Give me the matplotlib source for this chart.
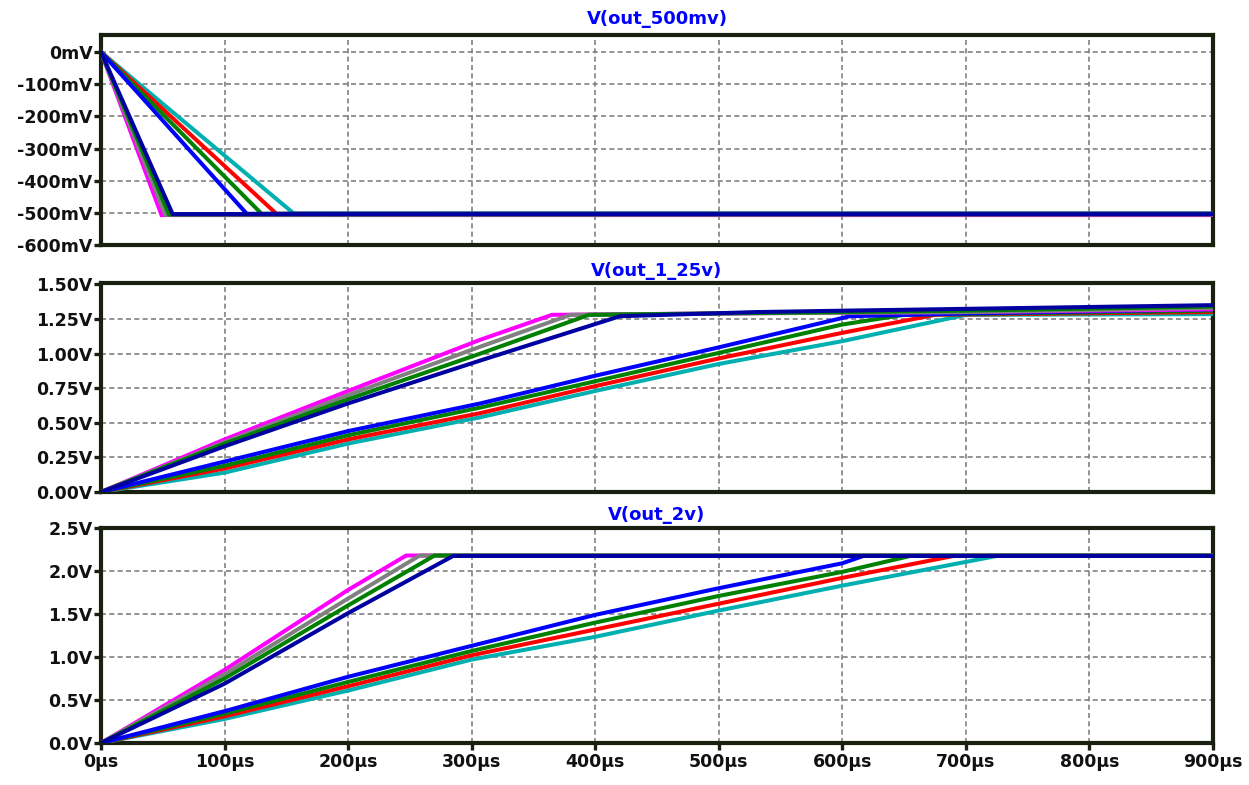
import matplotlib.pyplot as plt
from matplotlib.ticker import FixedLocator

# ---- data (time in us, voltage) ----
# V(out_500mv), in mV
t500_fast = {
    'magenta': [0, 49, 900],
    'gray': [0, 52, 900],
    'green': [0, 55, 900],
    'navy': [0, 58, 900],
}
v500_fast = {
    'magenta': [0, -507, -507],
    'gray': [0, -506, -505],
    'green': [0, -505, -504],
    'navy': [0, -504, -504],
}
t500_slow = {
    'cyan': [0, 156, 900],
    'red': [0, 142, 900],
    'green': [0, 130, 900],
    'blue': [0, 118, 900],
}
v500_slow = {
    'cyan': [0, -502, -502],
    'red': [0, -503, -503],
    'green': [0, -503, -503],
    'blue': [0, -503, -503],
}

# V(out_1_25v)
t125_fast = {
    'magenta': [0, 100, 200, 307, 365, 500, 700, 900],
    'gray': [0, 100, 200, 307, 380, 500, 700, 900],
    'green': [0, 100, 200, 307, 395, 500, 700, 900],
    'navy': [0, 100, 200, 307, 420, 530, 600, 900],
}
v125_fast = {
    'magenta': [0, 0.38, 0.73, 1.10, 1.28, 1.29, 1.30, 1.32],
    'gray': [0, 0.36, 0.70, 1.05, 1.28, 1.29, 1.30, 1.33],
    'green': [0, 0.35, 0.67, 1.00, 1.28, 1.29, 1.31, 1.34],
    'navy': [0, 0.33, 0.64, 0.95, 1.27, 1.30, 1.31, 1.35],
}
t125_slow = {
    'cyan': [0, 100, 200, 307, 400, 500, 600, 700, 900],
    'red': [0, 100, 200, 307, 400, 500, 600, 675, 900],
    'green': [0, 100, 200, 307, 400, 500, 600, 650, 900],
    'blue': [0, 100, 200, 307, 400, 500, 606, 700, 900],
}
v125_slow = {
    'cyan': [0, 0.14, 0.35, 0.54, 0.73, 0.925, 1.09, 1.28, 1.285],
    'red': [0, 0.17, 0.38, 0.57, 0.765, 0.965, 1.15, 1.28, 1.30],
    'green': [0, 0.19, 0.41, 0.61, 0.80, 1.005, 1.21, 1.28, 1.31],
    'blue': [0, 0.22, 0.44, 0.64, 0.84, 1.045, 1.27, 1.29, 1.32],
}

# V(out_2v)
t2_fast = {
    'magenta': [0, 100, 200, 247, 900],
    'gray': [0, 100, 200, 258, 900],
    'green': [0, 100, 200, 270, 900],
    'navy': [0, 100, 200, 285, 900],
}
v2_fast = {
    'magenta': [0, 0.85, 1.78, 2.18, 2.18],
    'gray': [0, 0.80, 1.68, 2.18, 2.18],
    'green': [0, 0.75, 1.60, 2.18, 2.18],
    'navy': [0, 0.69, 1.51, 2.175, 2.175],
}
t2_slow = {
    'cyan': [0, 100, 200, 300, 400, 500, 600, 725, 900],
    'red': [0, 100, 200, 300, 400, 500, 600, 690, 900],
    'green': [0, 100, 200, 300, 400, 500, 600, 655, 900],
    'blue': [0, 100, 200, 300, 400, 500, 600, 617, 900],
}
v2_slow = {
    'cyan': [0, 0.28, 0.61, 0.97, 1.235, 1.54, 1.83, 2.175, 2.175],
    'red': [0, 0.31, 0.66, 1.02, 1.32, 1.62, 1.92, 2.175, 2.175],
    'green': [0, 0.34, 0.71, 1.07, 1.40, 1.71, 1.99, 2.175, 2.175],
    'blue': [0, 0.37, 0.77, 1.13, 1.49, 1.80, 2.09, 2.175, 2.175],
}

x_ticks = [0, 100, 200, 300, 400, 500, 600, 700, 800, 900]
x_labels = ['%dµs' % v for v in x_ticks]
y500_ticks = [0, -100, -200, -300, -400, -500, -600]
y500_labels = ['%dmV' % v for v in y500_ticks]
y125_ticks = [0, 0.25, 0.5, 0.75, 1.0, 1.25, 1.5]
y125_labels = ['%.2fV' % v for v in y125_ticks]
y2_ticks = [0, 0.5, 1.0, 1.5, 2.0, 2.5]
y2_labels = ['%.1fV' % v for v in y2_ticks]

colors = {
    'magenta': '#ff00ff', 'gray': '#808080', 'green': '#008000',
    'navy': '#0000a0', 'blue': '#0000ff', 'red': '#ff0000', 'cyan': '#00b0b0',
}

frame_col = '#1a2010'
W, H = 1249, 785
fig = plt.figure(figsize=(W / 100, H / 100), dpi=100)

left, right = 101, 1213
boxes = [(35, 245), (283, 492), (528, 743)]  # top, bottom pixel rows
axes = []
for top, bot in boxes:
    ax = fig.add_axes([left / W, 1 - bot / H, (right - left) / W, (bot - top) / H])
    axes.append(ax)

panels = [
    ('V(out_500mv)', t500_slow, v500_slow, t500_fast, v500_fast, (-600, 53), y500_ticks, y500_labels, 8),
    ('V(out_1_25v)', t125_slow, v125_slow, t125_fast, v125_fast, (0, 1.51), y125_ticks, y125_labels, 5),
    ('V(out_2v)', t2_slow, v2_slow, t2_fast, v2_fast, (0, 2.5), y2_ticks, y2_labels, 6),
]

for i, (ax, p) in enumerate(zip(axes, panels)):
    title, ts, vs, tf, vf, ylim, yt, yl, tpad = p
    for k in ts:
        ax.plot(ts[k], vs[k], color=colors[k], lw=2.9, solid_joinstyle='miter', zorder=3)
    for k in tf:
        ax.plot(tf[k], vf[k], color=colors[k], lw=2.9, solid_joinstyle='miter', zorder=3)
    ax.set_xlim(0, 900)
    ax.set_ylim(*ylim)
    ax.yaxis.set_major_locator(FixedLocator(yt))
    ax.set_yticklabels(yl)
    ax.xaxis.set_major_locator(FixedLocator(x_ticks))
    ax.grid(True, color='#808080', lw=1.2, linestyle=(0, (3, 2)), zorder=1)
    for s in ax.spines.values():
        s.set_color(frame_col)
        s.set_linewidth(3)
    ax.tick_params(axis='y', length=5, width=2.4, color=frame_col, pad=1,
                   labelsize=12.5, labelcolor='#111111')
    for lab in ax.get_yticklabels():
        lab.set_fontweight('bold')
    if i < 2:
        ax.tick_params(axis='x', length=0, labelbottom=False)
    else:
        ax.set_xticklabels(x_labels)
        ax.tick_params(axis='x', length=5, width=2.4, color=frame_col, pad=2,
                       labelsize=12.5, labelcolor='#111111')
        for lab in ax.get_xticklabels():
            lab.set_fontweight('bold')
    ax.set_title(title, color='#0000ff', fontsize=13, fontweight='bold', pad=tpad)

fig.savefig('out.png', dpi=100)
